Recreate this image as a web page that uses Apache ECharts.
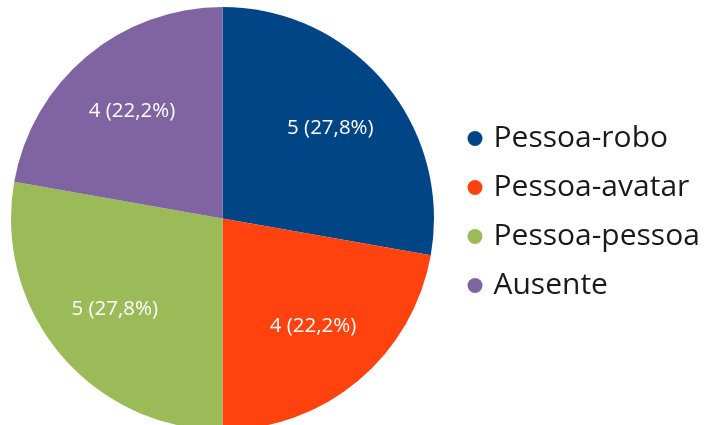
<!DOCTYPE html>
<html>
<head>
<meta charset="utf-8">
<script src="https://cdn.jsdelivr.net/npm/echarts@6/dist/echarts.min.js"></script>
<style>
  html, body { margin: 0; padding: 0; background: #ffffff; }
  #chart { width: 706px; height: 425px; }
</style>
</head>
<body>
<div id="chart"></div>
<script>
// Interaction types and the number of studies in each
const categories = ['Pessoa-robo', 'Pessoa-avatar', 'Pessoa-pessoa', 'Ausente'];
const counts = [5, 4, 5, 4];
const percentLabels = ['27,8%', '22,2%', '27,8%', '22,2%'];
const colors = ['#004586', '#ff420e', '#9bbb59', '#8064a2'];

const FONT = '"Open Sans", "Noto Sans", sans-serif';
const pieData = categories.map((name, i) => ({ name, value: counts[i] }));

const chart = echarts.init(document.getElementById('chart'), null, { renderer: 'canvas' });
chart.setOption({
  animation: false,
  color: colors,
  legend: {
    orient: 'vertical',
    left: 467.5,
    top: 123.5,
    padding: 0,
    icon: 'circle',
    itemWidth: 15,
    itemHeight: 15,
    itemGap: 19,
    selectedMode: false,
    data: categories,
    textStyle: {
      fontFamily: FONT,
      fontSize: 30,
      lineHeight: 30,
      color: '#1a1a1a',
      padding: [0, 0, 0, 6]
    }
  },
  series: [
    {
      // filled slices
      type: 'pie',
      center: [222.5, 218.5],
      radius: [0, 211.5],
      startAngle: 90,
      clockwise: true,
      silent: true,
      label: { show: false },
      labelLine: { show: false },
      data: pieData
    },
    {
      // transparent ring used only to place the value labels further out
      type: 'pie',
      center: [222.5, 218.5],
      radius: [64, 211.5],
      startAngle: 90,
      clockwise: true,
      silent: true,
      itemStyle: { color: 'rgba(0,0,0,0)' },
      label: {
        show: true,
        position: 'inside',
        fontFamily: FONT,
        fontSize: 20.5,
        color: '#ffffff',
        formatter: p => counts[p.dataIndex] + ' (' + percentLabels[p.dataIndex] + ')'
      },
      labelLine: { show: false },
      data: pieData
    }
  ]
});
</script>
</body>
</html>
